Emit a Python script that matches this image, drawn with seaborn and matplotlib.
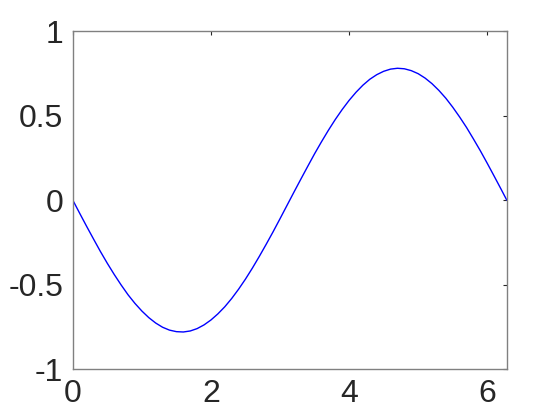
import numpy as np
import pandas as pd
import matplotlib
matplotlib.use("Agg")
import matplotlib.pyplot as plt
import seaborn as sns

# values
x_vals = [0.0, 0.1, 0.2, 0.3, 0.4, 0.5, 0.6, 0.7, 0.8, 0.9,
          1.0, 1.1, 1.2, 1.3, 1.4, 1.5, 1.6, 1.7, 1.8, 1.9,
          2.0, 2.1, 2.2, 2.3, 2.4, 2.5, 2.6, 2.7, 2.8, 2.9,
          3.0, 3.1, 3.2, 3.3, 3.4, 3.5, 3.6, 3.7, 3.8, 3.9,
          4.0, 4.1, 4.2, 4.3, 4.4, 4.5, 4.6, 4.7, 4.8, 4.9,
          5.0, 5.1, 5.2, 5.3, 5.4, 5.5, 5.6, 5.7, 5.8, 5.9,
          6.0, 6.1, 6.2, 6.283]
y_vals = [0.0, -0.078, -0.155, -0.230, -0.304, -0.374, -0.440, -0.502, -0.560, -0.611,
          -0.656, -0.695, -0.727, -0.752, -0.769, -0.778, -0.780, -0.774, -0.760, -0.738,
          -0.709, -0.673, -0.631, -0.582, -0.527, -0.467, -0.402, -0.333, -0.261, -0.187,
          -0.110, -0.032, 0.046, 0.123, 0.199, 0.274, 0.345, 0.413, 0.477, 0.536,
          0.590, 0.638, 0.680, 0.715, 0.742, 0.762, 0.775, 0.780, 0.777, 0.766,
          0.748, 0.722, 0.689, 0.649, 0.603, 0.550, 0.492, 0.430, 0.362, 0.292,
          0.218, 0.142, 0.065, 0.0]
x_ticks = [0, 2, 4, 6]
y_ticks = [-1, -0.5, 0, 0.5, 1]
y_ticklabels = ["-1", "-0.5", "0", "0.5", "1"]

sns.set_style("white")
plt.rcParams['font.family'] = ['Liberation Sans', 'DejaVu Sans']

df = pd.DataFrame({"x": x_vals, "y": y_vals})

fig = plt.figure(figsize=(5.6, 4.2), dpi=100)
ax = fig.add_axes([0.13, 0.121, 0.775, 0.805])

sns.lineplot(data=df, x="x", y="y", ax=ax, color=(0, 0, 1), linewidth=1.0,
             estimator=None, sort=False)

ax.set_xlim(0, 2 * np.pi)
ax.set_ylim(-1, 1)
ax.set_xticks(x_ticks)
ax.set_xticklabels([str(t) for t in x_ticks])
ax.set_yticks(y_ticks)
ax.set_yticklabels(y_ticklabels)
ax.set_xlabel("")
ax.set_ylabel("")

for sp in ax.spines.values():
    sp.set_visible(True)
    sp.set_color("#808080")
    sp.set_linewidth(1.0)

ax.tick_params(axis="both", direction="in", length=3, width=0.8, color="#262626",
               labelsize=23, labelcolor="#262626", top=True, right=True)
ax.tick_params(axis="y", pad=7)
ax.tick_params(axis="x", pad=7)

fig.savefig("out.png", dpi=100)
